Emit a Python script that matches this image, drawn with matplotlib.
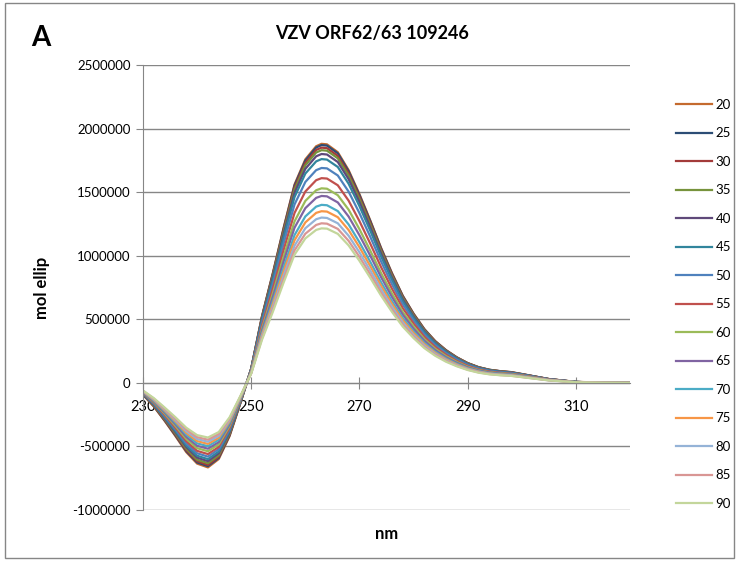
import matplotlib
matplotlib.use("Agg")
import matplotlib.pyplot as plt
from matplotlib.patches import Rectangle
from matplotlib.ticker import FuncFormatter

plt.rcParams['font.family'] = ['Lato', 'DejaVu Sans']

# wavelengths (nm) shared by all series
wavelength = [230, 232, 234, 236, 238, 240, 242, 244, 246, 248, 250, 252, 254, 256, 258, 260, 262, 263,
              264, 266, 268, 270, 272, 274, 276, 278, 280, 282, 284, 286, 288, 290, 292, 294, 296, 298,
              300, 305, 310, 315, 320]

# mol ellip values in thousands, one list per temperature
t20 = [-93, -186, -299, -419, -545, -635, -665, -599, -419, -160, 113, 526, 865, 1222, 1560, 1758, 1861, 1880,
       1876, 1814, 1673, 1485, 1278, 1062, 865, 686, 545, 423, 329, 258, 201, 156, 124, 103, 92, 85,
       70, 30, 8, 2, 0]
t25 = [-92, -183, -295, -413, -537, -626, -655, -590, -413, -157, 112, 524, 860, 1216, 1552, 1748, 1851, 1870,
       1866, 1805, 1664, 1477, 1272, 1057, 860, 683, 542, 421, 327, 256, 200, 155, 123, 103, 92, 84,
       69, 30, 7, 2, 0]
t30 = [-90, -181, -290, -406, -529, -616, -645, -581, -406, -155, 111, 518, 851, 1203, 1536, 1730, 1832, 1850,
       1846, 1785, 1647, 1462, 1258, 1045, 851, 675, 537, 416, 324, 253, 198, 154, 122, 102, 91, 83,
       68, 30, 7, 2, 0]
t35 = [-88, -177, -284, -398, -518, -604, -632, -569, -398, -152, 110, 512, 842, 1190, 1519, 1711, 1812, 1830,
       1826, 1766, 1629, 1446, 1244, 1034, 842, 668, 531, 412, 320, 251, 196, 152, 121, 101, 90, 82,
       68, 29, 7, 2, 0]
t40 = [-86, -172, -277, -388, -505, -588, -616, -554, -388, -148, 108, 504, 828, 1170, 1494, 1683, 1782, 1800,
       1796, 1737, 1602, 1422, 1224, 1017, 828, 657, 522, 405, 315, 247, 193, 149, 119, 99, 88, 81,
       67, 29, 7, 2, 0]
t45 = [-84, -168, -270, -378, -492, -573, -600, -540, -378, -144, 106, 493, 810, 1144, 1461, 1646, 1742, 1760,
       1756, 1698, 1566, 1390, 1197, 994, 810, 642, 510, 396, 308, 241, 188, 146, 116, 97, 86, 79,
       65, 28, 7, 2, 0]
t50 = [-81, -162, -261, -365, -476, -554, -580, -522, -365, -139, 101, 473, 777, 1099, 1403, 1580, 1673, 1690,
       1687, 1631, 1504, 1335, 1149, 955, 777, 617, 490, 380, 296, 232, 181, 140, 112, 93, 83, 76,
       63, 27, 7, 2, 0]
t55 = [-78, -157, -252, -353, -459, -535, -560, -504, -353, -134, 97, 451, 741, 1047, 1336, 1505, 1594, 1610,
       1607, 1554, 1433, 1272, 1095, 910, 741, 588, 467, 362, 282, 221, 172, 134, 106, 89, 79, 72,
       60, 26, 6, 2, 0]
t60 = [-75, -151, -242, -339, -441, -514, -538, -484, -339, -129, 92, 428, 704, 995, 1270, 1431, 1515, 1530,
       1527, 1476, 1362, 1209, 1040, 864, 704, 558, 444, 344, 268, 210, 164, 127, 101, 84, 75, 69,
       57, 24, 6, 2, 0]
t65 = [-73, -145, -233, -326, -425, -495, -518, -466, -326, -124, 88, 412, 676, 956, 1220, 1374, 1455, 1470,
       1467, 1419, 1308, 1161, 1000, 831, 676, 537, 426, 331, 257, 201, 157, 122, 97, 81, 72, 66,
       54, 24, 6, 1, 0]
t70 = [-70, -139, -224, -314, -408, -476, -498, -448, -314, -120, 84, 392, 644, 910, 1162, 1309, 1386, 1400,
       1397, 1351, 1246, 1106, 952, 791, 644, 511, 406, 315, 245, 192, 150, 116, 92, 77, 69, 63,
       52, 22, 6, 1, 0]
t75 = [-67, -134, -216, -302, -394, -458, -480, -432, -302, -115, 81, 378, 621, 878, 1121, 1262, 1337, 1350,
       1347, 1303, 1202, 1067, 918, 763, 621, 493, 392, 304, 236, 185, 144, 112, 89, 74, 66, 61,
       50, 22, 5, 1, 0]
t80 = [-65, -130, -208, -292, -380, -442, -463, -417, -292, -111, 78, 364, 598, 845, 1079, 1216, 1287, 1300,
       1297, 1255, 1157, 1027, 884, 735, 598, 475, 377, 293, 228, 178, 139, 108, 86, 72, 64, 59,
       48, 21, 5, 1, 0]
t85 = [-63, -125, -201, -282, -367, -427, -447, -402, -282, -107, 75, 351, 577, 816, 1042, 1173, 1242, 1255,
       1252, 1211, 1117, 991, 853, 709, 577, 458, 364, 282, 220, 172, 134, 104, 83, 69, 61, 56,
       46, 20, 5, 1, 0]
t90 = [-60, -120, -194, -271, -353, -411, -430, -387, -271, -103, 73, 340, 559, 790, 1008, 1136, 1203, 1215,
       1213, 1172, 1081, 960, 826, 686, 559, 443, 352, 273, 213, 166, 130, 101, 80, 67, 60, 55,
       45, 19, 5, 1, 0]

labels = ['20', '25', '30', '35', '40', '45', '50', '55', '60', '65', '70', '75', '80', '85', '90']
series = [t20, t25, t30, t35, t40, t45, t50, t55, t60, t65, t70, t75, t80, t85, t90]
colors = ['#C46A2E', '#2C4D75', '#A33B3A', '#77933C', '#5F497A', '#31859C', '#4F81BD', '#C0504D',
          '#9BBB59', '#8064A2', '#4BACC6', '#F79646', '#95B3D7', '#D99694', '#C3D69B']

fig = plt.figure(figsize=(7.36, 5.61), dpi=100)
ax = fig.add_axes([143 / 736, 1 - 510 / 561, 487 / 736, 445 / 561])

for lab, vals, col in zip(labels, series, colors):
    ax.plot(wavelength, [v * 1000 for v in vals], color=col, lw=1.6, label=lab,
            solid_joinstyle='round')

ax.set_xlim(230, 320)
ax.set_ylim(-1000000, 2500000)
ax.set_yticks(range(-1000000, 2500001, 500000))
ax.set_xticks([230, 250, 270, 290, 310])
ax.yaxis.set_major_formatter(FuncFormatter(lambda v, p: f'{int(v)}'))
ax.grid(axis='y', color='#868686', lw=1)
ax.set_axisbelow(True)

for s in ['top', 'right']:
    ax.spines[s].set_visible(False)
ax.spines['left'].set_color('#868686')
ax.spines['bottom'].set_color('#868686')
ax.spines['bottom'].set_position(('data', 0))
ax.tick_params(axis='y', colors='#868686', labelcolor='black', labelsize=9.5, length=5, pad=4)
ax.tick_params(axis='x', colors='#868686', labelcolor='black', labelsize=10.5,
               direction='inout', length=8, pad=8)

ax.set_xlabel('nm', fontsize=12, fontweight='bold')
ax.xaxis.set_label_coords(0.5, -0.035)
ax.set_ylabel('mol ellip', fontsize=12, fontweight='bold', labelpad=16)

fig.text(0.505, 0.941, 'VZV ORF62/63 109246', ha='center', va='center', fontsize=13, fontweight='bold')
fig.text(0.056, 0.932, 'A', ha='center', va='center', fontsize=20, fontweight='bold')

fig.legend(loc='upper left', bbox_to_anchor=(664 / 736, 1 - 87 / 561), frameon=False,
           fontsize=9.5, handlelength=2.7, labelspacing=1.25, handletextpad=0.3)

# outer frame of the chart area
fig.patches.append(Rectangle((5 / 736, 3 / 561), 729 / 736, 555 / 561, transform=fig.transFigure,
                             fill=False, edgecolor='#868686', lw=1))

fig.savefig('out.png', dpi=100)
